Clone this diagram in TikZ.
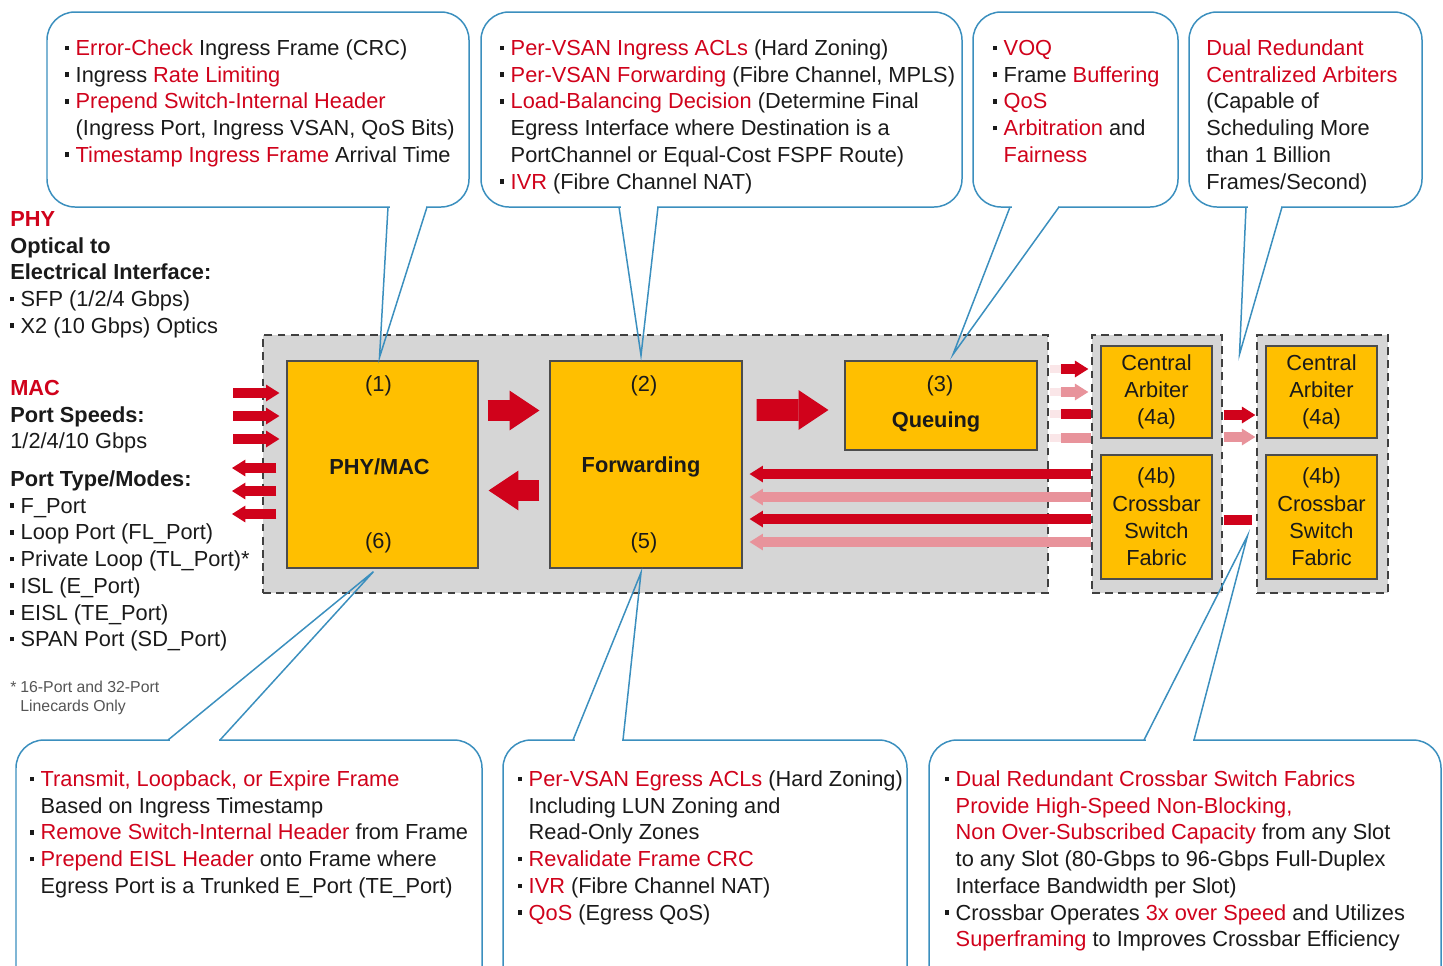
\documentclass[tikz,border=0pt]{standalone}
\usepackage{fontspec}
\setmainfont{Liberation Sans}
\usepackage{xcolor}
\usetikzlibrary{arrows.meta, positioning, calc}
\definecolor{CRed}{HTML}{D0021B}
\definecolor{CPink}{HTML}{E8939B}
\definecolor{CGold}{HTML}{FFBF00}
\definecolor{CZone}{HTML}{D6D6D6}
\definecolor{CDash}{HTML}{404040}
\definecolor{CBlue}{HTML}{3B8FBE}
\definecolor{CInk}{HTML}{1A1A1A}
\definecolor{CNote}{HTML}{555555}
\newcommand{\hl}[1]{\textcolor{CRed}{#1}}
\newcommand{\bul}{\makebox[5.9pt][l]{\rule[3pt]{1.9pt}{2.6pt}}}
\newcommand{\ind}{\hspace*{5.9pt}}
\newcommand{\lst}[1]{\begin{tabular}[t]{@{}l@{}}#1\end{tabular}}

\begin{document}
\begin{tikzpicture}[
  x=0.02cm, y=-0.02cm,
  font=\fontsize{12.4pt}{15.2pt}\selectfont,
  zone/.style={rectangle, draw=CDash, fill=CZone, line width=0.8pt,
               dash pattern=on 4.5pt off 3pt, inner sep=0pt},
  unit/.style={rectangle, draw=black!70, fill=CGold, line width=0.7pt,
               inner sep=0pt, text=CInk, align=center,
               font=\fontsize{12.4pt}{15.5pt}\selectfont},
  tag/.style={inner sep=0pt, text=CInk},
  body/.style={inner sep=0pt, anchor=base west, text=CInk},
  note/.style={inner sep=0pt, anchor=base west, text=CNote,
               font=\fontsize{9pt}{10.8pt}\selectfont},
  fat/.style={draw=CRed, line width=12.5pt,
              -{Triangle[length=17pt, width=22.7pt, line width=0pt]}},
  porta/.style={line width=6pt,
                -{Triangle[length=7.6pt, width=9.6pt, line width=0pt]}},
  bar/.style={line width=5.8pt},
  ghost/.style={draw=CRed!10, line width=5pt},
  callout/.style={draw=CBlue, line width=0.85pt},
  bubble/.style={callout, rounded corners=0.56cm},
]
\path[use as bounding box] (0,0) rectangle (1443,965);
\clip (0,0) rectangle (1443,965);

% ── grey zones ───────────────────────────────────────────────────────────
\node[zone, minimum width=15.7cm, minimum height=5.16cm] (lc)   at (655.5,464) {};
\node[zone, minimum width=2.6cm,  minimum height=5.16cm] (supA) at (1157,464) {};
\node[zone, minimum width=2.62cm, minimum height=5.16cm] (supB) at (1322.5,464) {};

% ── functional blocks ────────────────────────────────────────────────────
\node[unit, minimum width=3.82cm, minimum height=4.14cm] (phymac) at (382.5,464.5) {};
\node[unit, minimum width=3.84cm, minimum height=4.14cm] (fwd)    at (646,464.5)   {};
\node[unit, minimum width=3.84cm, minimum height=1.78cm] (queue)  at (941,405.5)   {};
\node[unit, minimum width=2.22cm, minimum height=1.84cm] (arbA)   at (1156.5,392)  {Central\\Arbiter\\(4a)};
\node[unit, minimum width=2.22cm, minimum height=2.48cm] (xbarA)  at (1156.5,517)  {(4b)\\Crossbar\\Switch\\Fabric};
\node[unit, minimum width=2.22cm, minimum height=1.84cm] (arbB)   at (1321.5,392)  {Central\\Arbiter\\(4a)};
\node[unit, minimum width=2.22cm, minimum height=2.48cm] (xbarB)  at (1321.5,517)  {(4b)\\Crossbar\\Switch\\Fabric};

\node[tag] (n1)   at ($(phymac.north)+(-4,25)$)  {(1)};
\node[tag] (nPhy) at ($(phymac.center)+(-3,2)$)  {\textbf{PHY/MAC}};
\node[tag] (n6)   at ($(phymac.south)+(-4,-26)$) {(6)};
\node[tag] (n2)   at ($(fwd.north)+(-2,25)$)     {(2)};
\node[tag] (nFwd) at ($(fwd.center)+(-5,2)$)     {\textbf{Forwarding}};
\node[tag] (n5)   at ($(fwd.south)+(-2,-26)$)    {(5)};
\node[tag] (n3)   at ($(queue.north)+(-1,25)$)   {(3)};
\node[tag] (nq)   at ($(queue.south)+(-5,-29)$)  {\textbf{Queuing}};

% ── data path arrows ─────────────────────────────────────────────────────
\draw[fat] ([shift={(9,-54)}]phymac.east) -- ([shift={(-10,-54)}]fwd.west);
\draw[fat] ([shift={(-10,26)}]fwd.west) -- ([shift={(10,26)}]phymac.east);
\draw[fat] ([shift={(14,-54.5)}]fwd.east) -- ([shift={(-16,4.5)}]queue.west);

\coordinate (portin)  at (233,416);
\coordinate (portout) at (232,491);
\foreach \dy in {-23,0,23}{
  \draw[porta, draw=CRed] ($(portin)+(0,\dy)$) -- ($(portin -| phymac.west)+(-7,\dy)$);
  \draw[porta, draw=CRed] ($(portout -| phymac.west)+(-10,\dy)$) -- ($(portout)+(0,\dy)$);
}

% queuing to arbiter
\foreach \dy in {-23,0,22,46}
  \draw[ghost] ($(lc.east |- arbA)+(1,\dy)$) -- ($(lc.east |- arbA)+(12,\dy)$);
\foreach \dy/\col in {-23/CRed, 0/CPink}
  \draw[porta, draw=\col] ($(lc.east |- arbA)+(12,\dy)$) -- ($(supA.west |- arbA)+(-3,\dy)$);
\foreach \dy/\col in {22/CRed, 46/CPink}
  \draw[bar, draw=\col] ($(lc.east |- arbA)+(12,\dy)$) -- ($(supA.west |- arbA)+(0,\dy)$);

% crossbar back to forwarding
\foreach \dy/\col in {-43/CRed, -20/CPink, 2/CRed, 25/CPink}
  \draw[porta, draw=\col] ($(supA.west |- xbarA)+(0,\dy)$) -- ($(fwd.east |- xbarA)+(7,\dy)$);

% between the two supervisors
\foreach \dy/\col in {23/CRed, 45/CPink}
  \draw[porta, draw=\col] ($(supA.east |- arbA)+(1,\dy)$) -- ($(supB.west |- arbA)+(-1,\dy)$);
\draw[bar, draw=CRed] ($(supA.east |- xbarA)+(1,3)$) -- ($(supB.west |- xbarA)+(-4,3)$);

% ── callout bubbles ──────────────────────────────────────────────────────
\coordinate (tip1) at ($(phymac.north)+(-3,-3)$);
\coordinate (tip2) at ($(fwd.north)+(-5,-5)$);
\coordinate (tip3) at ($(queue.north)+(12,-6)$);
\coordinate (tip4) at ($(supA.north east)!0.5!(supB.north west)+(0,20)$);
\coordinate (tip5) at ($(phymac.south)+(-9,3)$);
\coordinate (tip6) at ($(fwd.south)+(-5,4)$);
\coordinate (tip7) at ($(supA.south east)!0.5!(supB.south west)+(8,-58)$);

\draw[bubble] (47,12) rectangle (469,207);
\fill[white] (389.5,204) rectangle (425.5,210);
\draw[callout] (388,207) -- (tip1) -- (427,207);

\draw[bubble] (481,12) rectangle (962,207);
\fill[white] (620.5,204) rectangle (656.5,210);
\draw[callout] (619,207) -- (tip2) -- (658,207);

\draw[bubble] (973,12) rectangle (1178,207);
\fill[white] (1011.5,204) rectangle (1057.5,210);
\draw[callout] (1010,207) -- (tip3) -- (1059,207);

\draw[bubble] (1189,12) rectangle (1422,207);
\fill[white] (1247.5,204) rectangle (1280.5,210);
\draw[callout] (1246,207) -- (tip4) -- (1282,207);

\draw[bubble] (16,740) rectangle (482,1000);
\fill[white] (169.5,737) rectangle (218.5,743);
\draw[callout] (168,740) -- (tip5) -- (220,740);

\draw[bubble] (503,740) rectangle (907,1000);
\fill[white] (574.5,737) rectangle (621.5,743);
\draw[callout] (573,740) -- (tip6) -- (623,740);

\draw[bubble] (929,740) rectangle (1441,1000);
\fill[white] (1145.5,737) rectangle (1192.5,743);
\draw[callout] (1144,740) -- (tip7) -- (1194,740);

% ── callout texts ────────────────────────────────────────────────────────
\node[body] (txtIngress) at (65,55.5) {\lst{%
  \bul\hl{Error-Check} Ingress Frame (CRC)\\
  \bul Ingress \hl{Rate Limiting}\\
  \bul\hl{Prepend Switch-Internal Header}\\
  \ind(Ingress Port, Ingress VSAN, QoS Bits)\\
  \bul\hl{Timestamp Ingress Frame} Arrival Time}};
\node[body] (txtForward) at (500,55.5) {\lst{%
  \bul\hl{Per-VSAN Ingress ACLs} (Hard Zoning)\\
  \bul\hl{Per-VSAN Forwarding} (Fibre Channel, MPLS)\\
  \bul\hl{Load-Balancing Decision} (Determine Final\\
  \ind Egress Interface where Destination is a\\
  \ind PortChannel or Equal-Cost FSPF Route)\\
  \bul\hl{IVR} (Fibre Channel NAT)}};
\node[body] (txtQueue) at (993,55.5) {\lst{%
  \bul\hl{VOQ}\\
  \bul Frame \hl{Buffering}\\
  \bul\hl{QoS}\\
  \bul\hl{Arbitration} and\\
  \ind\hl{Fairness}}};
\node[body] (txtArbiter) at (1206,55.5) {\lst{%
  \hl{Dual Redundant}\\
  \hl{Centralized Arbiters}\\
  (Capable of\\
  Scheduling More\\
  than 1 Billion\\
  Frames/Second)}};
\node[body] (txtEgress) at (30,786.5) {\lst{%
  \bul\hl{Transmit, Loopback, or Expire Frame}\\
  \ind Based on Ingress Timestamp\\
  \bul\hl{Remove Switch-Internal Header} from Frame\\
  \bul\hl{Prepend EISL Header} onto Frame where\\
  \ind Egress Port is a Trunked E\_Port (TE\_Port)}};
\node[body] (txtEgressFwd) at (518,786.5) {\lst{%
  \bul\hl{Per-VSAN Egress ACLs} (Hard Zoning)\\
  \ind Including LUN Zoning and\\
  \ind Read-Only Zones\\
  \bul\hl{Revalidate Frame CRC}\\
  \bul\hl{IVR} (Fibre Channel NAT)\\
  \bul\hl{QoS} (Egress QoS)}};
\node[body] (txtFabric) at (945,786.5) {\lst{%
  \bul\hl{Dual Redundant Crossbar Switch Fabrics}\\
  \ind\hl{Provide High-Speed Non-Blocking,}\\
  \ind\hl{Non Over-Subscribed Capacity} from any Slot\\
  \ind to any Slot (80-Gbps to 96-Gbps Full-Duplex\\
  \ind Interface Bandwidth per Slot)\\
  \bul Crossbar Operates \hl{3x over Speed} and Utilizes\\
  \ind\hl{Superframing} to Improves Crossbar Efficiency}};

% ── left side notes ──────────────────────────────────────────────────────
\node[body] (phytxt) at (10,226.5) {\lst{%
  \hl{\textbf{PHY}}\\
  \textbf{Optical to}\\
  \textbf{Electrical Interface:}\\
  \bul SFP (1/2/4 Gbps)\\
  \bul X2 (10 Gbps) Optics}};
\node[body] (mactxt) at (10,395.5) {\lst{%
  \hl{\textbf{MAC}}\\
  \textbf{Port Speeds:}\\
  1/2/4/10 Gbps}};
\node[body] (modetxt) at (10,486.5) {\lst{%
  \textbf{Port Type/Modes:}\\
  \bul F\_Port\\
  \bul Loop Port (FL\_Port)\\
  \bul Private Loop (TL\_Port)*\\
  \bul ISL (E\_Port)\\
  \bul EISL (TE\_Port)\\
  \bul SPAN Port (SD\_Port)}};
\node[note] (foot) at (10,692.7) {\lst{%
  \makebox[5.7pt][l]{*}16-Port and 32-Port\\
  \hspace*{5.7pt}Linecards Only}};

\end{tikzpicture}
\end{document}
